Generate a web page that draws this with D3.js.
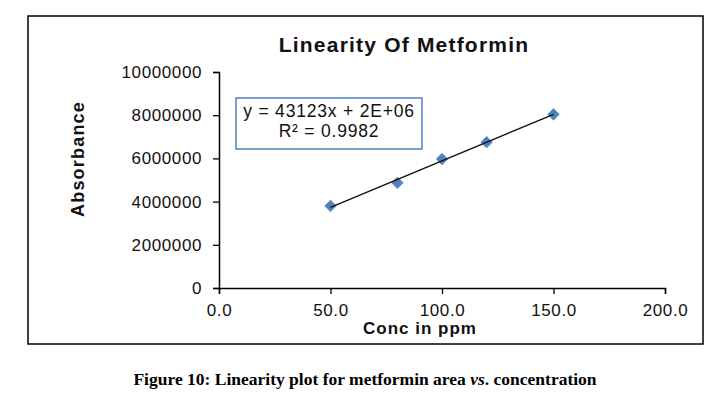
<!DOCTYPE html>
<html>
<head>
<meta charset="utf-8">
<script src="https://cdn.jsdelivr.net/npm/d3@7"></script>
<style>
  body { margin: 0; background: #fff; }
  svg { display: block; }
</style>
</head>
<body>
<div id="chart"></div>
<script>
// data
var concs = [50, 80, 100, 120, 150];
var absorbance = [3800000, 4870000, 5970000, 6750000, 8040000];
var xTicks = [0, 50, 100, 150, 200];
var yTicks = [0, 2000000, 4000000, 6000000, 8000000, 10000000];
var equationLines = ["y = 43123x + 2E+06", "R\u00b2 = 0.9982"];

var W = 728, H = 399;
var blue = "#4f81bd";

var svg = d3.select("#chart").append("svg")
    .attr("width", W)
    .attr("height", H)
    .style("background", "#fff");

// chart frame
svg.append("rect")
  .attr("x", 28).attr("y", 16)
  .attr("width", 675).attr("height", 328)
  .attr("fill", "none")
  .attr("stroke", "#000")
  .attr("stroke-width", 1.5);

// scales
var x = d3.scaleLinear().domain([0, 200]).range([219, 665]);
var y = d3.scaleLinear().domain([0, 10000000]).range([288, 72]);

// x axis
var xAxis = svg.append("g")
  .attr("transform", "translate(0," + y(0) + ")")
  .call(d3.axisBottom(x)
    .tickValues(xTicks)
    .tickFormat(d3.format(".1f"))
    .tickSizeOuter(0)
    .tickSize(6)
    .tickPadding(10));

// y axis
var yAxis = svg.append("g")
  .attr("transform", "translate(" + x(0) + ",0)")
  .call(d3.axisLeft(y)
    .tickValues(yTicks)
    .tickFormat(d3.format("d"))
    .tickSizeOuter(0)
    .tickSize(6)
    .tickPadding(11));

[xAxis, yAxis].forEach(function(g) {
  g.select(".domain").attr("stroke", "#000").attr("stroke-width", 1.5);
  g.selectAll(".tick line").attr("stroke", "#000").attr("stroke-width", 1.3);
  g.selectAll("text")
    .attr("fill", "#111")
    .style("font-family", "'Liberation Sans', Arial, sans-serif")
    .style("font-size", "17px")
    .style("letter-spacing", "0.6px");
});

// markers
svg.selectAll(".pt")
  .data(concs)
  .enter().append("path")
    .attr("class", "pt")
    .attr("d", d3.symbol(d3.symbolSquare).size(68))
    .attr("transform", function(d, i) {
      return "translate(" + x(d) + "," + y(absorbance[i]) + ") rotate(45)";
    })
    .attr("fill", blue)
    .attr("stroke", "#6f9ad0")
    .attr("stroke-width", 0.8);

// linear trendline (least squares of the points)
var mx = d3.mean(concs), my = d3.mean(absorbance);
var sxy = d3.sum(concs, function(d, i) { return (d - mx) * (absorbance[i] - my); });
var sxx = d3.sum(concs, function(d) { return (d - mx) * (d - mx); });
var slope = sxy / sxx, icpt = my - slope * mx;
var xr = d3.extent(concs);

svg.append("line")
  .attr("x1", x(xr[0])).attr("y1", y(slope * xr[0] + icpt))
  .attr("x2", x(xr[1])).attr("y2", y(slope * xr[1] + icpt))
  .attr("stroke", "#111")
  .attr("stroke-width", 1.4);

// equation box
svg.append("rect")
  .attr("x", 236).attr("y", 98)
  .attr("width", 186).attr("height", 51)
  .attr("fill", "#fff")
  .attr("stroke", blue)
  .attr("stroke-width", 1.5);

svg.selectAll(".eq")
  .data(equationLines)
  .enter().append("text")
    .attr("class", "eq")
    .attr("x", 329)
    .attr("y", function(d, i) { return 117 + i * 20; })
    .attr("text-anchor", "middle")
    .style("font-family", "'Liberation Sans', Arial, sans-serif")
    .style("font-size", "17.5px")
    .style("letter-spacing", "0.8px")
    .attr("fill", "#111")
    .text(function(d) { return d; });

// title
svg.append("text")
  .attr("x", 404).attr("y", 52)
  .attr("text-anchor", "middle")
  .style("font", "bold 21px 'Liberation Sans', Arial, sans-serif")
  .style("letter-spacing", "1.2px")
  .attr("fill", "#111")
  .text("Linearity Of Metformin");

// axis labels
svg.append("text")
  .attr("x", 420).attr("y", 334)
  .attr("text-anchor", "middle")
  .style("font", "bold 17px 'Liberation Sans', Arial, sans-serif")
  .style("letter-spacing", "1px")
  .attr("fill", "#111")
  .text("Conc in ppm");

svg.append("text")
  .attr("transform", "translate(84,159) rotate(-90)")
  .attr("text-anchor", "middle")
  .style("font", "bold 18px 'Liberation Sans', Arial, sans-serif")
  .style("letter-spacing", "1.2px")
  .attr("fill", "#111")
  .text("Absorbance");

// figure caption
var cap = svg.append("text")
  .attr("x", 365).attr("y", 385)
  .attr("text-anchor", "middle")
  .style("font", "bold 17.5px 'Liberation Serif', 'Times New Roman', serif")
  .attr("fill", "#000");
cap.append("tspan").text("Figure 10: Linearity plot for metformin area ");
cap.append("tspan").style("font-style", "italic").text("vs");
cap.append("tspan").text(". concentration");
</script>
</body>
</html>
